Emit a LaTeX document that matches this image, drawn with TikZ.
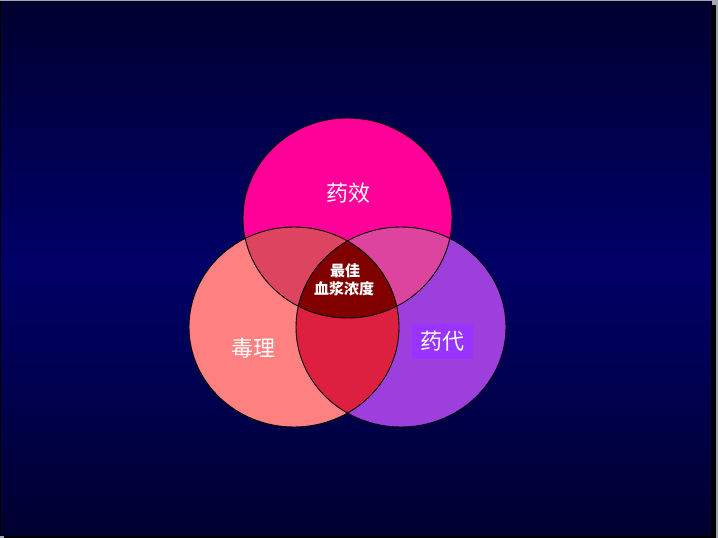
\documentclass[tikz,border=0pt]{standalone}
\usepackage{fontspec}
\newfontfamily\cjk{Noto Sans CJK SC}
\definecolor{bgdark}{HTML}{000030}
\definecolor{bgmid}{HTML}{000068}
\definecolor{frame}{HTML}{A0A8B8}
\definecolor{cT}{HTML}{FF0099}
\definecolor{cL}{HTML}{FF8080}
\definecolor{cR}{HTML}{9D3FDD}
\definecolor{cTL}{HTML}{DD4460}
\definecolor{cTR}{HTML}{DD449D}
\definecolor{cLR}{HTML}{DD1F40}
\definecolor{cC}{HTML}{800000}
\definecolor{cBox}{HTML}{9933FF}
\tikzset{
  pT/.style={insert path={(347.5,218) ellipse [x radius=104.5, y radius=100]}},
  pL/.style={insert path={(294,327) ellipse [x radius=105, y radius=100]}},
  pR/.style={insert path={(401,327) ellipse [x radius=105, y radius=100]}},
  outline/.style={draw=black, line width=0.9pt},
  biglbl/.style={text=white, font=\cjk\fontsize{22}{24}\selectfont, inner sep=0pt},
  smalllbl/.style={text=white, font=\cjk\bfseries\fontsize{15}{18}\selectfont, inner sep=0pt, align=center}
}
\begin{document}
\begin{tikzpicture}[x=1pt,y=-1pt]
\useasboundingbox (0,0) rectangle (718,538);
% frame
\fill[frame] (0,0) rectangle (718,538);
\fill[black] (4,5) rectangle (716,538);
\fill[black] (0,1) rectangle (712,536);
\shade[top color=bgdark, bottom color=bgdark, middle color=bgmid] (1,1) rectangle (711,535);
% circles
\fill[cT, pT];
\fill[cL, pL];
\fill[cR, pR];
\begin{scope}
  \clip[pT];
  \fill[cTL, pL];
\end{scope}
\begin{scope}
  \clip[pT];
  \fill[cTR, pR];
\end{scope}
\begin{scope}
  \clip[pL];
  \fill[cLR, pR];
\end{scope}
\begin{scope}
  \clip[pT];
  \clip[pL];
  \fill[cC, pR];
\end{scope}
\path[outline, pT];
\path[outline, pL];
\path[outline, pR];
% labels
\node[biglbl] (yx) at (348,193) {药效};
\node[biglbl] (dl) at (253,348) {毒理};
\node[fill=cBox, minimum width=61pt, minimum height=35pt, inner sep=0pt] (box) at (442.5,341.5) {};
\node[biglbl] (yd) at (box.center) {药代};
\node[smalllbl] (zj) at (345,271) {最佳};
\node[smalllbl] (xj) at (344,289) {血浆浓度};
\end{tikzpicture}
\end{document}
